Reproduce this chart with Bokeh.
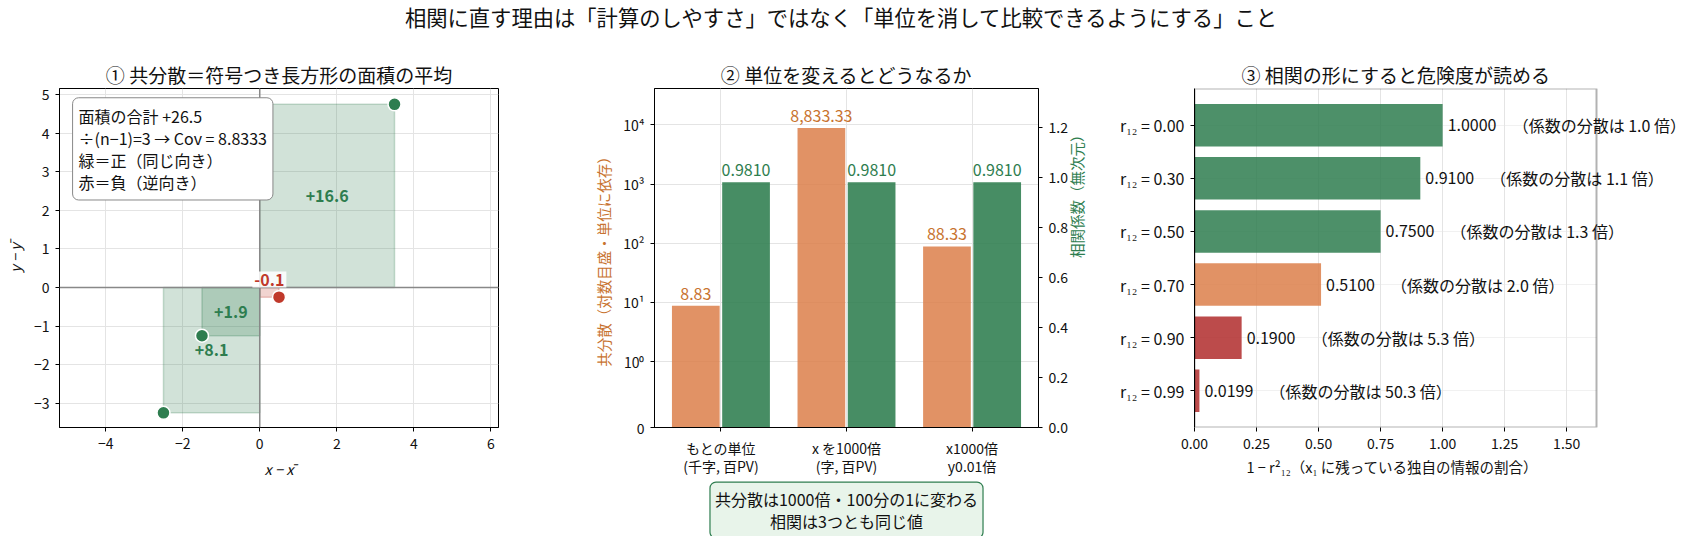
import math

from bokeh.plotting import figure
from bokeh.models import (
    ColumnDataSource, Range1d, LinearAxis, LinearScale, FixedTicker,
    SingleIntervalTicker, CustomJSTickFormatter, NumeralTickFormatter,
    Label, LabelSet, Span, BoxAnnotation, Title,
)
from bokeh.core.properties import value
from bokeh.layouts import column, row
from bokeh.transform import dodge
from bokeh.embed import file_html
from bokeh.resources import INLINE

# ── Data ─────────────────────────────────────────────────────────
# panel 1: deviations from the mean (4 observations)
dev_x = [3.5, -2.5, -1.5, 0.5]
dev_y = [4.75, -3.25, -1.25, -0.25]

# panel 2: same data in three unit systems
unit_labels = ["もとの単位\n(千字, 百PV)", "x を1000倍\n(字, 百PV)", "x1000倍\ny0.01倍"]
cov_values = [8.8333, 8833.33, 88.333]
corr_values = [0.9810, 0.9810, 0.9810]

# panel 3: 1 - r12^2 and the variance inflation
r12_labels = ["0.00", "0.30", "0.50", "0.70", "0.90", "0.99"]
unique_share = [1.0, 0.91, 0.75, 0.51, 0.19, 0.0199]
vif_values = [1.0, 1.1, 1.3, 2.0, 5.3, 50.3]

# ── Theme ────────────────────────────────────────────────────────
FONT = "Noto Sans CJK JP"
INK = "#111111"
GREEN = "#2e7d4f"
RED = "#c0392b"
ORANGE = "#dc7f4a"
BAR_RED = "#b02c2c"
ORANGE_TXT = "#c8732f"


def _style(p):
    p.outline_line_color = "black"
    p.outline_line_width = 1
    for ax in p.axis:
        ax.axis_line_color = "black"
        ax.major_tick_line_color = "black"
        ax.major_tick_in = 0
        ax.major_tick_out = 4
        ax.minor_tick_line_color = None
        ax.major_label_text_font = FONT
        ax.major_label_text_font_size = "14px"
        ax.major_label_text_color = INK
        ax.major_label_standoff = 6
        ax.axis_label_text_font = FONT
        ax.axis_label_text_font_size = "14.5px"
        ax.axis_label_text_font_style = "normal"
        ax.axis_label_text_color = INK
        ax.axis_label_standoff = 6
    p.grid.grid_line_color = "#e4e4e4"
    if p.title is not None:
        p.title.text_font = FONT
        p.title.text_font_size = "19px"
        p.title.text_font_style = "normal"
        p.title.text_color = INK
        p.title.align = "center"
        p.title.standoff = 2


def _fig(title, x_range, y_range, fw, fh, left, right, bottom=105, **kw):
    return figure(
        title=title, x_range=x_range, y_range=y_range,
        frame_width=fw, frame_height=fh,
        min_border_left=left, min_border_right=right,
        min_border_top=48, min_border_bottom=bottom,
        toolbar_location=None, output_backend="svg", **kw,
    )


def _blank(width, height, **kw):
    p = figure(width=width, height=height, x_range=Range1d(0, 1), y_range=Range1d(0, 1),
               toolbar_location=None, output_backend="svg", **kw)
    p.axis.visible = False
    p.grid.visible = False
    p.outline_line_color = None
    return p


# ── Suptitle ─────────────────────────────────────────────────────
tf = _blank(1682, 40, min_border=0)
tf.add_layout(Label(
    x=0.5, y=0.6, text="相関に直す理由は「計算のしやすさ」ではなく「単位を消して比較できるようにする」こと",
    text_font=FONT, text_font_size="21.3px", text_color=INK,
    text_align="center", text_baseline="middle",
))

# ── ① covariance as signed rectangles ────────────────────────────
p1 = _fig("① 共分散＝符号つき長方形の面積の平均", Range1d(-5.2, 6.2), Range1d(-3.63, 5.16),
          439, 339, 54, 79)

areas = [dx * dy for dx, dy in zip(dev_x, dev_y)]
colors = [GREEN if a > 0 else RED for a in areas]
rect_src = ColumnDataSource(data={
    'left': [min(0, dx) for dx in dev_x], 'right': [max(0, dx) for dx in dev_x],
    'bottom': [min(0, dy) for dy in dev_y], 'top': [max(0, dy) for dy in dev_y],
    'color': colors,
})
p1.quad(left='left', right='right', bottom='bottom', top='top', source=rect_src,
        fill_color='color', fill_alpha=0.22, line_color='color', line_alpha=0.25, line_width=1.5)

p1.add_layout(Span(location=0, dimension='height', line_color='#888888', line_width=1.5))
p1.add_layout(Span(location=0, dimension='width', line_color='#888888', line_width=1.5))

p1.scatter(dev_x, dev_y, size=13, fill_color=colors, line_color='white', line_width=1.5)

for dx, dy, a, c in zip(dev_x, dev_y, areas, colors):
    txt = f"{a:+.1f}"
    if abs(a) >= 0.5:
        p1.add_layout(Label(x=dx / 2, y=dy / 2, text=txt, text_color=c, text_font=FONT,
                            text_font_size="16px", text_font_style="bold",
                            text_align="center", text_baseline="middle"))
    else:
        p1.add_layout(Label(x=dx / 2, y=0, text=txt, text_color=c, text_font=FONT,
                            text_font_size="16px", text_font_style="bold",
                            text_align="center", text_baseline="bottom",
                            background_fill_color="white", background_fill_alpha=0.85,
                            padding=2))

total = sum(areas)
cov = total / (len(dev_x) - 1)
info = (f"面積の合計 {total:+.1f}\n"
        f"÷(n−1)={len(dev_x) - 1} → Cov = {cov:.4f}\n"
        "緑＝正（同じ向き）\n赤＝負（逆向き）")
p1.add_layout(Label(x=-4.86, y=4.92, text=info, text_font=FONT, text_font_size="16px",
                    text_color=INK, text_align="left", text_baseline="top",
                    text_line_height=0.92,
                    background_fill_color="white", border_line_color="#888888",
                    border_line_width=1, border_radius=6, padding=6))

p1.xaxis.ticker = SingleIntervalTicker(interval=2)
p1.yaxis.ticker = SingleIntervalTicker(interval=1)
p1.xaxis.axis_label = "x − x̄"
p1.yaxis.axis_label = "y − ȳ"
_style(p1)
p1.xaxis.axis_label_text_font_style = "italic"
p1.yaxis.axis_label_text_font_style = "italic"

# ── ② changing units ─────────────────────────────────────────────
floor = 10 ** (-1 / 0.9)   # symlog-like bottom: "0"
p2 = _fig("② 単位を変えるとどうなるか", Range1d(-0.529, 2.529), Range1d(floor, 41000),
          384, 339, 77, 69, bottom=53, y_axis_type="log")
p2.extra_y_ranges = {"corr": Range1d(0, 1.356)}
p2.extra_y_scales = {"corr": LinearScale()}

src2 = ColumnDataSource(data={
    'x': list(range(len(unit_labels))),
    'cov': cov_values, 'corr': corr_values,
    'cov_txt': [f"{v:,.2f}" for v in cov_values],
    'corr_txt': [f"{v:.4f}" for v in corr_values],
})
p2.vbar(x=dodge('x', -0.2), top='cov', bottom=floor, width=0.38, source=src2,
        fill_color=ORANGE, fill_alpha=0.85, line_color=None)
p2.vbar(x=dodge('x', 0.2), top='corr', bottom=0, width=0.38, source=src2,
        y_range_name="corr", fill_color=GREEN, fill_alpha=0.88, line_color=None)
p2.add_layout(LabelSet(x=dodge('x', -0.2), y='cov', text='cov_txt', source=src2,
                       y_offset=6, text_align="center", text_baseline="bottom",
                       text_font=value(FONT), text_font_size="16px", text_color=ORANGE_TXT))
p2.add_layout(LabelSet(x=dodge('x', 0.2), y='corr', text='corr_txt', source=src2,
                       y_range_name="corr", y_offset=6, text_align="center",
                       text_baseline="bottom", text_font=value(FONT), text_font_size="16px",
                       text_color=GREEN))

p2.add_layout(LinearAxis(y_range_name="corr", axis_label="相関係数（無次元）",
                         ticker=FixedTicker(ticks=[0, 0.2, 0.4, 0.6, 0.8, 1.0, 1.2]),
                         formatter=NumeralTickFormatter(format="0.0")), "right")
p2.yaxis[0].ticker = FixedTicker(ticks=[floor, 1, 10, 100, 1000, 10000])
p2.yaxis[0].formatter = CustomJSTickFormatter(code="""
    if (tick < 0.5) return "0";
    const sup = ["⁰", "¹", "²", "³", "⁴", "⁵"];
    return "10" + sup[Math.round(Math.log10(tick))];
""")
p2.yaxis[0].axis_label = "共分散（対数目盛・単位に依存）"
p2.xaxis.ticker = FixedTicker(ticks=list(range(len(unit_labels))))
p2.xaxis.major_label_overrides = {i: t for i, t in enumerate(unit_labels)}
_style(p2)
p2.xaxis.major_label_text_line_height = 0.9
p2.yaxis[0].axis_label_text_color = ORANGE_TXT
p2.yaxis[1].axis_label_text_color = GREEN
p2.yaxis[1].axis_label_orientation = math.pi / 2

# note under panel 2, in its own strip aligned with the panel frame
note = _blank(530, 56, min_border_left=77, min_border_right=69,
              min_border_top=0, min_border_bottom=0)
note.add_layout(Label(x=0.5, y=0.47,
                      text="共分散は1000倍・100分の1に変わる\n相関は3つとも同じ値",
                      text_font=FONT, text_font_size="16px", text_color=INK,
                      text_align="center", text_baseline="middle", text_line_height=0.92,
                      background_fill_color="#e8f4ea", border_line_color=GREEN,
                      border_line_width=1.2, border_radius=6, padding=5))

# ── ③ 1 - r12^2 ──────────────────────────────────────────────────
# the frame is widened to the right so the long labels are not clipped;
# the visible box ends at X_END and is drawn with a BoxAnnotation
X_END = 1.62
VIS_W, EXTRA_W = 402, 88
p3 = _fig(None, Range1d(0, X_END * (VIS_W + EXTRA_W) / VIS_W), Range1d(5.69, -0.69),
          VIS_W + EXTRA_W, 339, 87, 3)


def _risk_color(v):
    if v >= 0.7:
        return GREEN
    if v >= 0.4:
        return ORANGE
    return BAR_RED


cats = list(range(len(unique_share)))
for c in cats:
    p3.add_layout(BoxAnnotation(left=0, right=X_END, bottom=c - 0.004, top=c + 0.004,
                                fill_color="#e4e4e4", fill_alpha=1, line_color=None,
                                level="underlay"))

src3 = ColumnDataSource(data={
    'y': cats,
    'v': unique_share,
    'color': [_risk_color(v) for v in unique_share],
    'val_txt': [f"{v:.4f}" for v in unique_share],
    'vif_txt': [f"（係数の分散は {f:.1f} 倍）" for f in vif_values],
})
p3.hbar(y='y', left=0, right='v', height=0.8, source=src3,
        fill_color='color', fill_alpha=0.85, line_color=None)
p3.add_layout(LabelSet(x='v', y='y', text='val_txt', source=src3, x_offset=5,
                       text_align="left", text_baseline="middle",
                       text_font=value(FONT), text_font_size="16px", text_color=INK))
p3.add_layout(LabelSet(x='v', y='y', text='vif_txt', source=src3, x_offset=70,
                       text_align="left", text_baseline="middle",
                       text_font=value(FONT), text_font_size="16px", text_color=INK))

p3.add_layout(BoxAnnotation(left=0, right=X_END, fill_alpha=0, line_color="black",
                            line_width=2))

p3.xaxis.ticker = FixedTicker(ticks=[0, 0.25, 0.5, 0.75, 1.0, 1.25, 1.5])
p3.xaxis.formatter = NumeralTickFormatter(format="0.00")
p3.yaxis.ticker = FixedTicker(ticks=cats)
p3.yaxis.major_label_overrides = {i: f"r₁₂ = {t}" for i, t in enumerate(r12_labels)}
_style(p3)
p3.outline_line_color = None
p3.xaxis.axis_line_color = None
p3.ygrid.visible = False
p3.yaxis.major_label_text_font_size = "16px"

# title and x label centred over the visible box (left-aligned with an offset)
p3.add_layout(Title(text="③ 相関の形にすると危険度が読める", align="left", offset=47,
                    text_font=FONT, text_font_size="19px", text_font_style="normal",
                    text_color=INK, standoff=2), "above")
p3.add_layout(Title(text="1 − r²₁₂（x₁ に残っている独自の情報の割合）", align="left",
                    offset=52, text_font=FONT, text_font_size="14.5px",
                    text_font_style="normal", text_color=INK, standoff=4), "below")

layout = column(tf, row(p1, column(p2, note), p3))
open("out.html", "w").write(file_html(layout, INLINE))
